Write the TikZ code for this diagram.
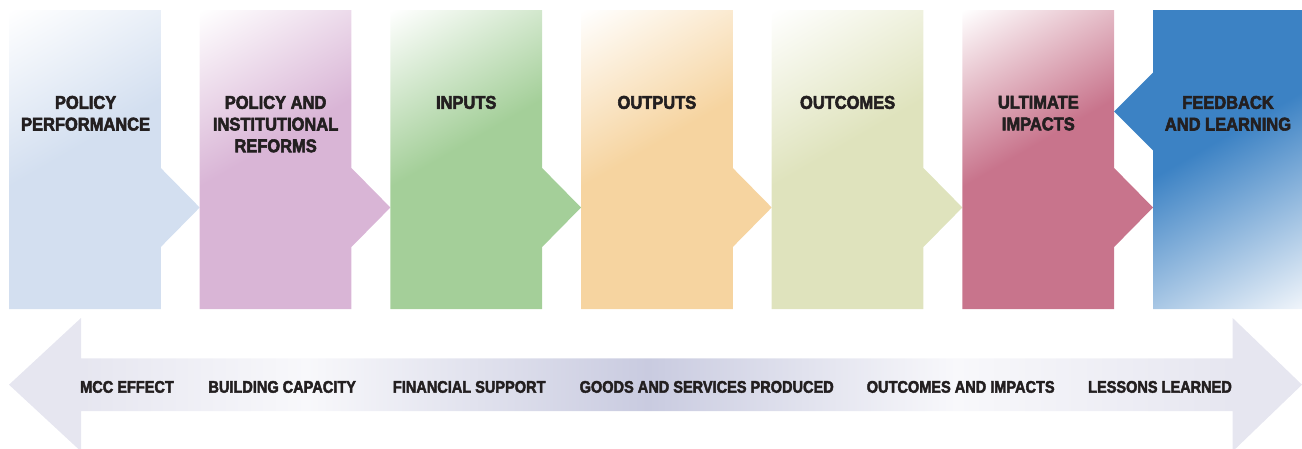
\documentclass[tikz,border=0pt]{standalone}
\usepackage{fontspec}
\newfontfamily\topfont{Liberation Sans}[FakeStretch=0.89, FakeBold=3]
\newfontfamily\botfont{Liberation Sans}[FakeStretch=0.865, FakeBold=2.5]
\definecolor{txt}{HTML}{231F20}
\definecolor{cA}{HTML}{D3DFF0}
\definecolor{cB}{HTML}{D9B5D6}
\definecolor{cC}{HTML}{A4CF99}
\definecolor{cD}{HTML}{F6D4A0}
\definecolor{cE}{HTML}{DFE3BD}
\definecolor{cF}{HTML}{C8748C}
\definecolor{cG}{HTML}{3C82C4}
\definecolor{cGend}{HTML}{EFF4FA}
\definecolor{arrhead}{HTML}{E6E6F0}
\definecolor{arrlight}{HTML}{F8F8FB}
\definecolor{arrdark}{HTML}{C9CBE0}
\newcommand\mkboxshade[2]{\pgfdeclarehorizontalshading{#1}{100bp}{color(0bp)=(white); color(29bp)=(white); color(48.2bp)=(#2); color(100bp)=(#2)}}
\mkboxshade{shadeA}{cA}
\mkboxshade{shadeB}{cB}
\mkboxshade{shadeC}{cC}
\mkboxshade{shadeD}{cD}
\mkboxshade{shadeE}{cE}
\mkboxshade{shadeF}{cF}
\pgfdeclarehorizontalshading{shadeG}{100bp}{color(0bp)=(cG); color(47.3bp)=(cG); color(70.8bp)=(cGend); color(100bp)=(cGend)}
\pgfdeclarehorizontalshading{arrshade}{100bp}{color(0bp)=(arrhead); color(27.8bp)=(arrhead); color(36.5bp)=(arrlight); color(49.7bp)=(arrdark); color(61.6bp)=(arrlight); color(72.3bp)=(arrhead); color(100bp)=(arrhead)}
\tikzset{
  toplab/.style={anchor=north, align=center, inner sep=0pt, text=txt,
    font=\topfont\bfseries\fontsize{18.5}{21.7}\selectfont},
  botlab/.style={anchor=base, inner sep=0pt, text=txt,
    font=\botfont\bfseries\fontsize{16.8}{20}\selectfont}
}
\begin{document}
\begin{tikzpicture}[x=1pt, y=-1pt]
\clip (0,0) rectangle (1302,448);
% six chevron boxes
\foreach \L/\s in {9/shadeA, 199.67/shadeB, 390.33/shadeC, 581/shadeD, 771.67/shadeE, 962.33/shadeF}{
  \begin{scope}
    \clip (\L,10) -- ++(151.8,0) -- ++(0,158) -- ++(38.9,39.5) -- ++(-38.9,39.5) -- ++(0,62) -- ++(-151.8,0) -- cycle;
    \shade[shading=\s, shading angle=-60] (\L+75.9-200,-40.5) rectangle ++(400,400);
  \end{scope}
}
% feedback box
\begin{scope}
  \clip (1153,10) -- (1302,10) -- (1302,309) -- (1153,309) -- (1153,150.5) -- (1114,111.5) -- (1153,72.5) -- cycle;
  \shade[shading=shadeG, shading angle=-60] (1227.5-200,-40.5) rectangle ++(400,400);
\end{scope}
% box labels
\node[toplab] (t1) at (85.6,95.7) {POLICY\\PERFORMANCE};
\node[toplab] (t2) at (275.6,95.7) {POLICY AND\\INSTITUTIONAL\\REFORMS};
\node[toplab] (t3) at (466.2,95.7) {INPUTS};
\node[toplab] (t4) at (656.9,95.7) {OUTPUTS};
\node[toplab] (t5) at (847.6,95.7) {OUTCOMES};
\node[toplab] (t6) at (1038.3,95.7) {ULTIMATE\\IMPACTS};
\node[toplab] (t7) at (1228,95.7) {FEEDBACK\\AND LEARNING};
% double arrow
\shade[shading=arrshade] (9,384.7) -- (81,318) -- (81,358.3) -- (1232.7,358.3) -- (1232.7,318) -- (1302,384.7) -- (1232.7,451.4) -- (1232.7,411) -- (81,411) -- (81,451.4) -- cycle;
\node[botlab] (b1) at (127,392.7) {MCC EFFECT};
\node[botlab] (b2) at (282.2,392.7) {BUILDING CAPACITY};
\node[botlab] (b3) at (469.2,392.7) {FINANCIAL SUPPORT};
\node[botlab] (b4) at (706.7,392.7) {GOODS AND SERVICES PRODUCED};
\node[botlab] (b5) at (960.7,392.7) {OUTCOMES AND IMPACTS};
\node[botlab] (b6) at (1160,392.7) {LESSONS LEARNED};
\end{tikzpicture}
\end{document}
